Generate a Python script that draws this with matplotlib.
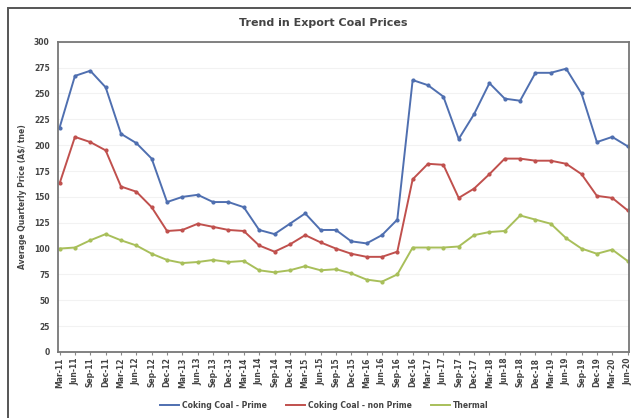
import numpy as np
import matplotlib
matplotlib.use("Agg")
from matplotlib import pyplot as plt
from matplotlib.patches import Rectangle

# quarters Mar-11 .. Jun-20
quarters = []
for yr in range(11, 21):
    for m in ["Mar", "Jun", "Sep", "Dec"]:
        quarters.append("%s-%02d" % (m, yr))
quarters = quarters[:38]

prime = [217, 267, 272, 256, 211, 202, 187, 145, 150, 152, 145, 145, 140,
         118, 114, 124, 134, 118, 118, 107, 105, 113, 128, 263, 258, 247,
         206, 230, 260, 245, 243, 270, 270, 274, 250, 203, 208, 199]
non_prime = [163, 208, 203, 195, 160, 155, 140, 117, 118, 124, 121, 118, 117,
             103, 97, 104, 113, 106, 100, 95, 92, 92, 97, 167, 182, 181,
             149, 158, 172, 187, 187, 185, 185, 182, 172, 151, 149, 137]
thermal = [100, 101, 108, 114, 108, 103, 95, 89, 86, 87, 89, 87, 88,
           79, 77, 79, 83, 79, 80, 76, 70, 68, 75, 101, 101, 101,
           102, 113, 116, 117, 132, 128, 124, 110, 100, 95, 99, 88]

fig = plt.figure(figsize=(6.31, 4.18), dpi=100)
ax = fig.add_axes([0.092, 0.158, 0.905, 0.742])

# outer frame, cut off at right and bottom
fig.patches.append(Rectangle((0.0127, -0.05), 1.05, 1.031, transform=fig.transFigure,
                             fill=False, edgecolor="#555555", linewidth=1.4))

x = np.arange(len(quarters))
ax.plot(x, prime, color="#4F6FB0", lw=1.4, marker="o", ms=2, label="Coking Coal - Prime")
ax.plot(x, non_prime, color="#C0504D", lw=1.4, marker="o", ms=2, label="Coking Coal - non Prime")
ax.plot(x, thermal, color="#A8BF5A", lw=1.4, marker="o", ms=2, label="Thermal")

ax.set_xlim(-0.1, len(quarters) - 0.9)
ax.set_ylim(0, 300)
ax.set_yticks(range(0, 301, 25))
ax.set_xticks(x)
ax.set_xticklabels(quarters, rotation=90, fontsize=5.5, color="#444444", fontweight="bold")
ax.tick_params(axis="y", labelsize=5.5, colors="#444444", length=0, pad=6)
ax.tick_params(axis="x", length=2, colors="#888888", labelcolor="#444444", pad=2)
for t in ax.get_yticklabels():
    t.set_fontweight("bold")
ax.grid(axis="y", color="#f2f2f2", lw=0.8)
ax.set_axisbelow(True)
for s in ax.spines.values():
    s.set_color("#777777")
    s.set_linewidth(1.3)

ax.set_ylabel("Average Quarterly Price (A$/ tne)", fontsize=5.5, color="#444444",
              fontweight="bold", labelpad=5)
fig.text(0.513, 0.945, "Trend in Export Coal Prices", ha="center", va="center",
         fontsize=8, fontweight="bold", color="#444444")

leg = fig.legend(loc="center", bbox_to_anchor=(0.514, 0.03), ncol=3, frameon=False,
                 fontsize=5.5, handlelength=2.5, columnspacing=2.5, handletextpad=0.4)
for t in leg.get_texts():
    t.set_color("#444444")
    t.set_fontweight("bold")
for h in leg.legend_handles:
    h.set_marker("")

fig.savefig("out.png", dpi=100)
